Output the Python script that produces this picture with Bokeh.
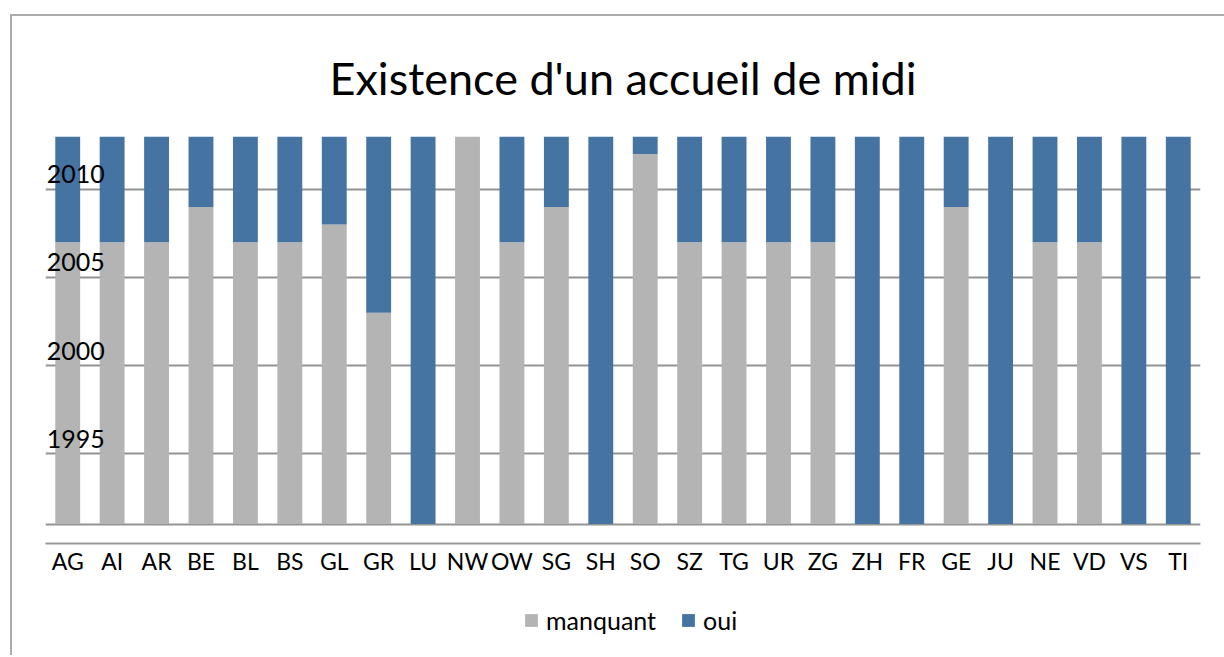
from bokeh.plotting import figure
from bokeh.layouts import column
from bokeh.models import ColumnDataSource, FixedTicker, Legend, LegendItem
from bokeh.core.properties import value
from bokeh.embed import file_html
from bokeh.resources import INLINE

# ---- data ----
cantons = ["AG", "AI", "AR", "BE", "BL", "BS", "GL", "GR", "LU", "NW", "OW", "SG", "SH",
           "SO", "SZ", "TG", "UR", "ZG", "ZH", "FR", "GE", "JU", "NE", "VD", "VS", "TI"]
# year up to which the midday care is "manquant"; from then on it is "oui"
manquant_until = [2007, 2007, 2007, 2009, 2007, 2007, 2008, 2003, 1991, 2013, 2007, 2009, 1991,
                  2012, 2007, 2007, 2007, 2007, 1991, 1991, 2009, 1991, 2007, 2007, 1991, 1991]
base_year = 1991
top_year = 2013
y_ticks = [1995, 2000, 2005, 2010]
title_text = "Existence d'un accueil de midi"
series_names = ["manquant", "oui"]
colors = ["#B4B4B4", "#4573A2"]

FONT = "Lato"

src = ColumnDataSource(dict(
    canton=cantons,
    base=[base_year] * len(cantons),
    split=manquant_until,
    top=[top_year] * len(cantons),
))

p = figure(
    x_range=cantons, y_range=(1989.9, top_year),
    width=1212, height=575,
    output_backend="svg", toolbar_location=None,
    min_border_left=33, min_border_right=24, min_border_top=120, min_border_bottom=48,
)
p.outline_line_color = None
p.background_fill_color = "white"
p.border_fill_color = "white"

p.title.text = title_text
p.title.align = "center"
p.title.text_font = FONT
p.title.text_font_size = "45px"
p.title.text_font_style = "normal"
p.title.text_color = "#000000"
p.title.standoff = 63

r1 = p.vbar(x="canton", bottom="base", top="split", width=0.56, source=src,
            fill_color=colors[0], line_color=None)
r2 = p.vbar(x="canton", bottom="split", top="top", width=0.56, source=src,
            fill_color=colors[1], line_color=None)

# grid
p.xgrid.visible = False
p.ygrid.ticker = FixedTicker(ticks=[base_year] + y_ticks)
p.ygrid.grid_line_color = "#939393"
p.ygrid.grid_line_width = 2

# y axis hidden; its labels are drawn over the plot as in the reference
p.yaxis.visible = False
p.text(x=[cantons[0]] * len(y_ticks), y=y_ticks, text=[str(t) for t in y_ticks],
       x_offset=37, y_offset=-6, text_align="right", text_baseline="bottom",
       text_font=value(FONT), text_font_size="25px", text_color="#000000")

# x axis
p.xaxis.axis_line_color = "#999999"
p.xaxis.axis_line_width = 2
p.xaxis.major_tick_line_color = None
p.xaxis.minor_tick_line_color = None
p.xaxis.major_label_standoff = -3
p.xaxis.major_label_text_font = FONT
p.xaxis.major_label_text_font_size = "23px"
p.xaxis.major_label_text_color = "#000000"

# legend strip below the chart (zero-size swatch renderers only feed the legend)
pl = figure(width=1212, height=64, output_backend="svg", toolbar_location=None,
            min_border=0, x_axis_location=None, y_axis_location=None)
pl.outline_line_color = None
pl.grid.visible = False
l1 = pl.vbar(x=[0], bottom=[0], top=[0], width=0, fill_color=colors[0], line_color=None)
l2 = pl.vbar(x=[0], bottom=[0], top=[0], width=0, fill_color=colors[1], line_color=None)
legend = Legend(items=[LegendItem(label=series_names[0], renderers=[l1]),
                       LegendItem(label=series_names[1], renderers=[l2])],
                orientation="horizontal", location=(478, 20))
legend.label_text_font = FONT
legend.label_text_font_size = "25px"
legend.label_text_color = "#000000"
legend.glyph_width = 16
legend.glyph_height = 16
legend.label_standoff = 7
legend.spacing = 24
legend.border_line_color = None
legend.background_fill_alpha = 0
legend.margin = 0
legend.padding = 0
pl.add_layout(legend)

layout = column(p, pl)
layout.margin = (14, 0, 0, 10)
layout.styles = {"border-left": "2px solid #ababab", "border-top": "2px solid #ababab"}

open("out.html", "w").write(file_html(layout, INLINE))
